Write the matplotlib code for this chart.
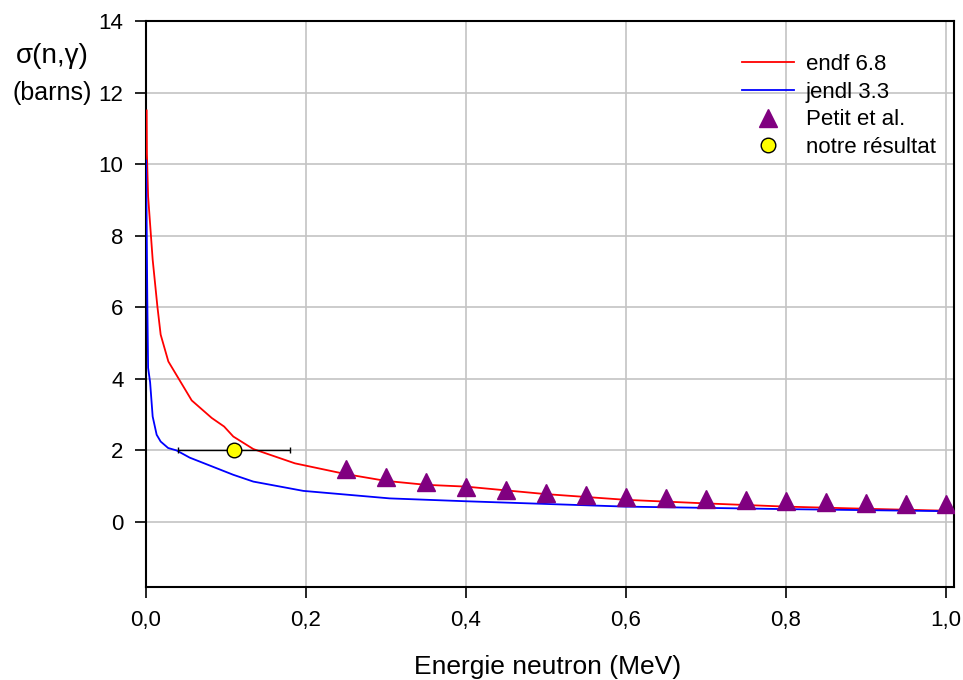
import matplotlib
matplotlib.use('Agg')
import matplotlib.pyplot as plt
import numpy as np

plt.rcParams['font.family'] = ['Liberation Sans', 'DejaVu Sans']

# endf 6.8 curve (energy in MeV, sigma in barns)
endf_x = [0.0012, 0.0015, 0.003, 0.0087, 0.0146, 0.0187, 0.0283, 0.0575, 0.0825,
          0.098, 0.1095, 0.1345, 0.1866, 0.25, 0.30, 0.35, 0.40, 0.50, 0.60,
          0.70, 0.80, 0.90, 1.01]
endf_y = [11.5, 10.3, 9.1, 7.33, 6.02, 5.23, 4.48, 3.39, 2.90,
          2.66, 2.38, 2.03, 1.63, 1.33, 1.14, 1.03, 0.98, 0.77, 0.61,
          0.51, 0.42, 0.36, 0.30]

# jendl 3.3 curve
jendl_x = [0.0005, 0.002, 0.003, 0.0055, 0.0087, 0.0137, 0.0187, 0.028, 0.0387,
           0.055, 0.080, 0.1095, 0.1345, 0.197, 0.305, 0.40, 0.60, 0.80, 1.01]
jendl_y = [10.1, 6.2, 4.3, 3.9, 2.94, 2.43, 2.24, 2.06, 1.99,
           1.79, 1.57, 1.31, 1.12, 0.86, 0.65, 0.57, 0.42, 0.35, 0.29]

# Petit et al. measurements
petit_x = [0.25, 0.30, 0.35, 0.40, 0.45, 0.50, 0.55, 0.60, 0.65, 0.70,
           0.75, 0.80, 0.85, 0.90, 0.95, 1.00]
petit_y = [1.48, 1.26, 1.11, 0.97, 0.88, 0.80, 0.74, 0.70, 0.67, 0.64,
           0.61, 0.58, 0.55, 0.52, 0.50, 0.49]

# our result
notre_x = [0.11]
notre_y = [2.0]
notre_xerr = [0.07]

xticks = [0.0, 0.2, 0.4, 0.6, 0.8, 1.0]
xtick_labels = ['0,0', '0,2', '0,4', '0,6', '0,8', '1,0']
yticks = [0, 2, 4, 6, 8, 10, 12, 14]

fig = plt.figure(figsize=(9.63, 6.8), dpi=100)
ax = fig.add_axes([0.1513, 0.1372, 0.8394, 0.8318])

ax.plot(endf_x, endf_y, color='red', lw=1.3, label='endf 6.8', zorder=3)
ax.plot(jendl_x, jendl_y, color='blue', lw=1.3, label='jendl 3.3', zorder=3)
ax.plot(petit_x, petit_y, '^', color='#800080', ms=12.5, mec='#800080',
        ls='none', label='Petit et al.', zorder=4)
ax.errorbar(notre_x, notre_y, xerr=notre_xerr, fmt='o', color='black',
            mfc='#ffff00', mec='black', ms=10.5, mew=1.0, elinewidth=1.0,
            capsize=2.5, capthick=1.0, zorder=5)
ax.plot([], [], 'o', mfc='#ffff00', mec='black', ms=10.5, mew=1.0,
        ls='none', label='notre résultat')

ax.set_xlim(0, 1.0104)
ax.set_ylim(-1.82, 14)
ax.set_xticks(xticks)
ax.set_xticklabels(xtick_labels)
ax.set_yticks(yticks)
ax.tick_params(direction='out', length=8, width=1.2, labelsize=16, pad=8)
ax.tick_params(axis='x', pad=9)
ax.grid(True, color='#c4c4c4', lw=1.2, zorder=0)
ax.set_axisbelow(True)
for s in ax.spines.values():
    s.set_linewidth(1.5)

fig.text(0.569, 0.019, 'Energie neutron (MeV)', fontsize=19, ha='center', va='center')
fig.text(0.054, 0.918, 'σ(n,γ)', fontsize=20, ha='center', va='center')
fig.text(0.054, 0.863, '(barns)', fontsize=18, ha='center', va='center')

ax.legend(loc='upper left', bbox_to_anchor=(0.7705, 0.9206),
          bbox_transform=fig.transFigure, frameon=False, fontsize=16,
          handlelength=2.34, handletextpad=0.54, labelspacing=0.3,
          borderpad=0, borderaxespad=0, numpoints=1)

fig.savefig('out.png', dpi=100)
